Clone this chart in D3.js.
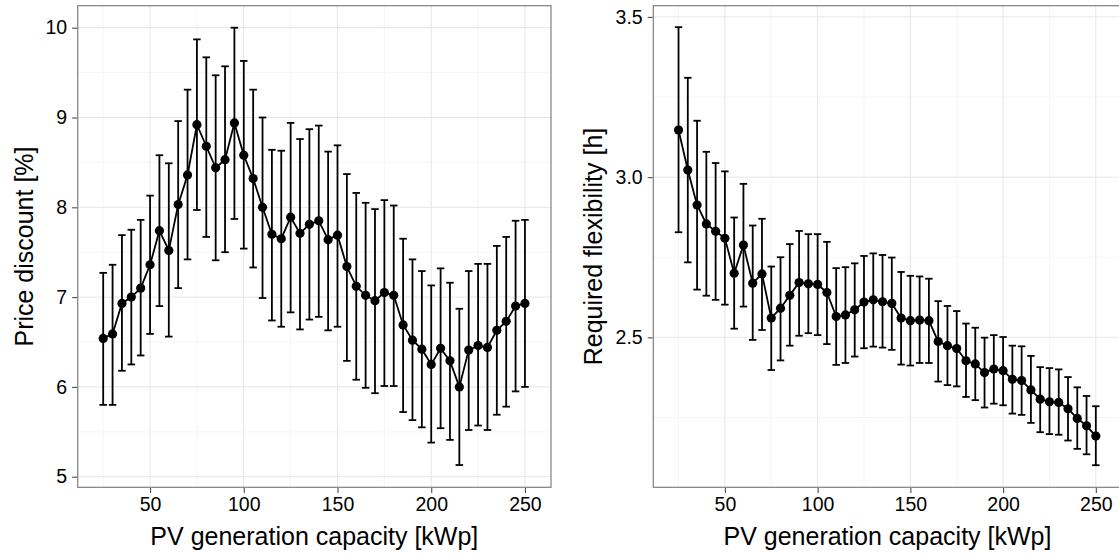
<!DOCTYPE html>
<html>
<head>
<meta charset="utf-8">
<script src="https://cdn.jsdelivr.net/npm/d3@7"></script>
<style>
  body { margin: 0; background: #fff; }
  svg { display: block; font-family: "Liberation Sans", Arial, sans-serif; }
</style>
</head>
<body>
<script>
// PV capacity steps (kWp)
const capacity = [25,30,35,40,45,50,55,60,65,70,75,80,85,90,95,100,105,110,115,120,
  125,130,135,140,145,150,155,160,165,170,175,180,185,190,195,200,205,210,215,220,
  225,230,235,240,245,250];

// left panel: price discount [%]
const discountMean = [6.54,6.59,6.93,7.00,7.10,7.36,7.74,7.52,8.03,8.36,8.92,8.68,8.44,8.53,8.94,8.58,8.32,8.00,7.70,7.65,
  7.89,7.71,7.81,7.85,7.64,7.69,7.34,7.12,7.02,6.96,7.05,7.02,6.69,6.52,6.42,6.25,6.43,6.29,6.00,6.41,
  6.46,6.44,6.63,6.73,6.90,6.93];
const discountHigh = [7.27,7.36,7.69,7.75,7.86,8.13,8.58,8.49,8.96,9.31,9.87,9.67,9.47,9.57,10.0,9.63,9.31,9.00,8.64,8.63,
  8.94,8.76,8.87,8.91,8.62,8.69,8.37,8.16,8.05,7.98,8.08,8.02,7.65,7.42,7.29,7.13,7.32,7.16,6.87,7.29,
  7.37,7.37,7.57,7.67,7.85,7.86];
const discountLow = [5.80,5.80,6.18,6.25,6.35,6.59,6.90,6.56,7.10,7.42,7.97,7.67,7.41,7.50,7.87,7.54,7.33,6.99,6.74,6.67,
  6.83,6.64,6.75,6.78,6.63,6.67,6.29,6.08,5.99,5.93,6.01,6.01,5.72,5.63,5.55,5.38,5.54,5.41,5.13,5.52,
  5.57,5.52,5.69,5.78,5.95,6.00];

// right panel: required flexibility [h]
const flexMean = [3.147,3.022,2.913,2.854,2.831,2.809,2.700,2.788,2.669,2.698,2.560,2.591,2.631,2.671,2.667,2.665,2.640,2.565,2.570,2.586,
  2.610,2.617,2.611,2.606,2.560,2.552,2.554,2.552,2.487,2.474,2.465,2.427,2.417,2.390,2.401,2.396,2.369,2.365,2.336,2.307,
  2.299,2.297,2.277,2.247,2.224,2.192];
const flexHigh = [3.468,3.310,3.176,3.079,3.044,3.018,2.874,2.979,2.849,2.870,2.721,2.750,2.791,2.832,2.822,2.822,2.798,2.716,2.719,2.731,
  2.754,2.762,2.757,2.749,2.704,2.692,2.690,2.683,2.613,2.598,2.582,2.543,2.530,2.499,2.507,2.501,2.474,2.472,2.442,2.407,
  2.404,2.400,2.376,2.344,2.317,2.285];
const flexLow = [2.828,2.734,2.649,2.630,2.617,2.602,2.527,2.596,2.492,2.523,2.398,2.428,2.474,2.505,2.513,2.507,2.479,2.414,2.420,2.440,
  2.466,2.471,2.468,2.461,2.415,2.412,2.420,2.420,2.362,2.351,2.347,2.314,2.304,2.281,2.293,2.288,2.262,2.258,2.233,2.204,
  2.198,2.196,2.178,2.152,2.135,2.101];

const xTicks = [50,100,150,200,250];
const xMinor = [25,75,125,175,225];
const discountTicks = [5,6,7,8,9,10];
const discountMinor = [5.5,6.5,7.5,8.5,9.5];
const flexTicks = [2.5,3.0,3.5];
const flexMinor = [2.25,2.75,3.25];

const W = 1119, H = 554;
const svg = d3.select("body").append("svg").attr("width", W).attr("height", H);

function panel(opt) {
  const x = d3.scaleLinear().domain([11.4, 263.9]).range([opt.left, opt.right]);
  const y = d3.scaleLinear().domain(opt.ydom).range([487.3, 5.7]);
  const g = svg.append("g");

  // grid
  g.selectAll(".minx").data(xMinor).enter().append("line")
    .attr("x1", d => x(d)).attr("x2", d => x(d)).attr("y1", 5.7).attr("y2", 487.3)
    .attr("stroke", "#f5f5f5").attr("stroke-width", 1);
  g.selectAll(".miny").data(opt.minor).enter().append("line")
    .attr("x1", opt.left).attr("x2", opt.right).attr("y1", d => y(d)).attr("y2", d => y(d))
    .attr("stroke", "#f5f5f5").attr("stroke-width", 1);
  g.selectAll(".majx").data(xTicks).enter().append("line")
    .attr("x1", d => x(d)).attr("x2", d => x(d)).attr("y1", 5.7).attr("y2", 487.3)
    .attr("stroke", "#e6e6e6").attr("stroke-width", 1);
  g.selectAll(".majy").data(opt.ticks).enter().append("line")
    .attr("x1", opt.left).attr("x2", opt.right).attr("y1", d => y(d)).attr("y2", d => y(d))
    .attr("stroke", "#e6e6e6").attr("stroke-width", 1);

  // data
  const pts = capacity.map((c, i) => ({c: c, m: opt.mean[i], lo: opt.low[i], hi: opt.high[i]}));
  const bars = g.append("g").attr("stroke", "#000").attr("stroke-width", 1.8);
  bars.selectAll(".v").data(pts).enter().append("line")
    .attr("x1", d => x(d.c)).attr("x2", d => x(d.c)).attr("y1", d => y(d.lo)).attr("y2", d => y(d.hi));
  bars.selectAll(".ct").data(pts).enter().append("line")
    .attr("x1", d => x(d.c - 2)).attr("x2", d => x(d.c + 2)).attr("y1", d => y(d.hi)).attr("y2", d => y(d.hi));
  bars.selectAll(".cb").data(pts).enter().append("line")
    .attr("x1", d => x(d.c - 2)).attr("x2", d => x(d.c + 2)).attr("y1", d => y(d.lo)).attr("y2", d => y(d.lo));

  g.append("path").datum(pts)
    .attr("fill", "none").attr("stroke", "#000").attr("stroke-width", 1.8)
    .attr("d", d3.line().x(d => x(d.c)).y(d => y(d.m)));
  g.selectAll("circle").data(pts).enter().append("circle")
    .attr("cx", d => x(d.c)).attr("cy", d => y(d.m)).attr("r", 4.6).attr("fill", "#000");

  // border
  g.append("rect").attr("x", opt.left).attr("y", 5.7)
    .attr("width", opt.right - opt.left).attr("height", 487.3 - 5.7)
    .attr("fill", "none").attr("stroke", "#7f7f7f").attr("stroke-width", 1.2);

  // axes
  const ax = g.append("g").attr("transform", "translate(0,488)")
    .call(d3.axisBottom(x).tickValues(xTicks).tickSize(5).tickPadding(4).tickFormat(d3.format("d")));
  const ay = g.append("g").attr("transform", `translate(${opt.left - 0.6},0)`)
    .call(d3.axisLeft(y).tickValues(opt.ticks).tickSize(5).tickPadding(5).tickFormat(opt.fmt));
  [ax, ay].forEach(a => {
    a.select(".domain").remove();
    a.selectAll(".tick line").attr("stroke", "#4d4d4d").attr("stroke-width", 1.1);
    a.selectAll(".tick text").attr("fill", "#000").style("font-size", "19.5px")
      .style("font-family", "'Liberation Sans', Arial, sans-serif");
  });

  // titles
  g.append("text").attr("x", (opt.left + opt.right) / 2).attr("y", 545)
    .attr("text-anchor", "middle").style("font-size", "25px").attr("fill", "#000")
    .text("PV generation capacity [kWp]");
  g.append("text").attr("transform", `translate(${opt.ytitleX},246.5) rotate(-90)`)
    .attr("text-anchor", "middle").style("font-size", "25px").attr("fill", "#000")
    .text(opt.ytitle);
}

panel({left: 77.7, right: 551, ydom: [4.882, 10.245], ticks: discountTicks, minor: discountMinor,
  fmt: d3.format("d"), mean: discountMean, low: discountLow, high: discountHigh,
  ytitle: "Price discount [%]", ytitleX: 33});
panel({left: 653.3, right: 1121.6, ydom: [2.032, 3.535], ticks: flexTicks, minor: flexMinor,
  fmt: d3.format(".1f"), mean: flexMean, low: flexLow, high: flexHigh,
  ytitle: "Required flexibility [h]", ytitleX: 602});
</script>
</body>
</html>
